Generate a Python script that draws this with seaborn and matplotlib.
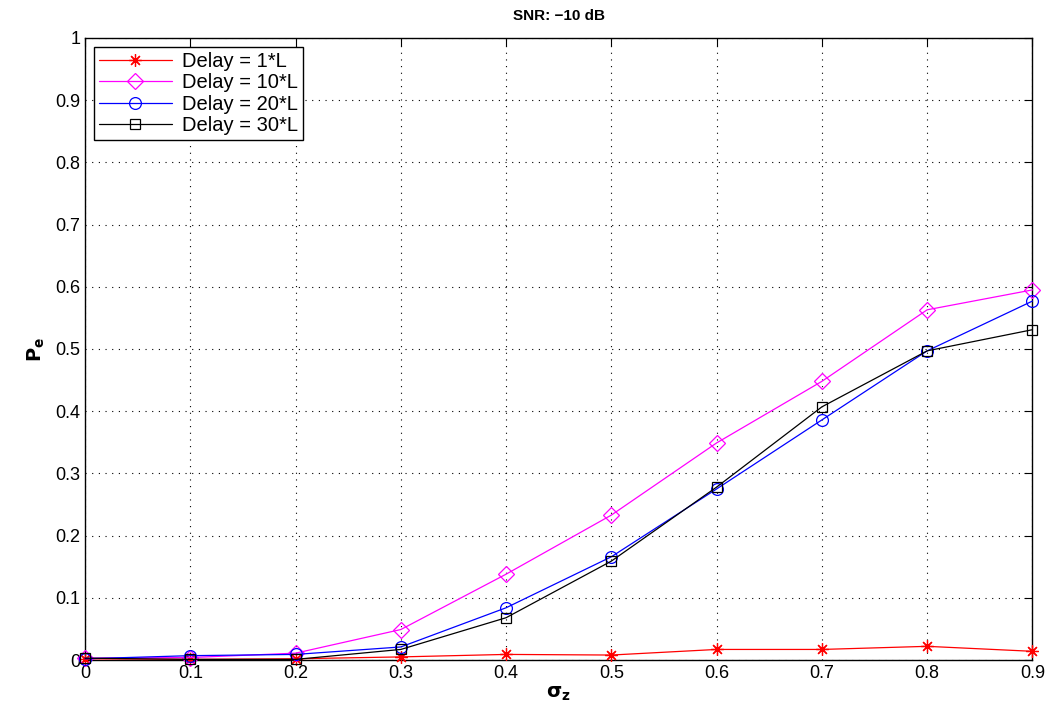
import matplotlib
matplotlib.use("Agg")
import matplotlib.pyplot as plt
import numpy as np
import pandas as pd
import seaborn as sns

# sigma_z values and P_e for each delay
sigma_z = [0.0, 0.1, 0.2, 0.3, 0.4, 0.5, 0.6, 0.7, 0.8, 0.9]
pe_delay_1 = [0.002, 0.001, 0.002, 0.005, 0.009, 0.008, 0.017, 0.017, 0.022, 0.014]
pe_delay_10 = [0.003, 0.004, 0.011, 0.049, 0.138, 0.233, 0.349, 0.448, 0.563, 0.595]
pe_delay_20 = [0.002, 0.007, 0.009, 0.021, 0.084, 0.166, 0.275, 0.386, 0.497, 0.577]
pe_delay_30 = [0.003, 0.001, 0.001, 0.017, 0.068, 0.159, 0.278, 0.407, 0.497, 0.531]
labels = ["Delay = 1*L", "Delay = 10*L", "Delay = 20*L", "Delay = 30*L"]

sns.set_style("white")
plt.rcParams["font.family"] = ["Liberation Sans", "DejaVu Sans"]
plt.rcParams["text.color"] = "black"
plt.rcParams["axes.labelcolor"] = "black"

df = pd.DataFrame(
    {
        "sigma": sigma_z * 4,
        "pe": pe_delay_1 + pe_delay_10 + pe_delay_20 + pe_delay_30,
        "delay": np.repeat(labels, len(sigma_z)),
    }
)

# colour, marker, marker size (MATLAB-like r*-, m d-, b o-, k s-)
styles = {
    labels[0]: ("#ff0000", (8, 2, 0), 9),
    labels[1]: ("#ff00ff", "D", 8),
    labels[2]: ("#0000ff", "o", 8.5),
    labels[3]: ("#000000", "s", 7),
}

fig = plt.figure(figsize=(10.55, 7.15), dpi=100)
ax = fig.add_axes([0.0806, 0.0769, 0.898, 0.870])

for lab in labels:
    col, mk, ms = styles[lab]
    sub = df[df["delay"] == lab]
    sns.lineplot(
        data=sub, x="sigma", y="pe", ax=ax, color=col, marker=mk,
        markersize=ms, markerfacecolor="none", markeredgecolor=col,
        markeredgewidth=0.9, linewidth=0.9, label=lab, clip_on=False,
        zorder=3,
    )

ax.set_xlim(0, 0.9)
ax.set_ylim(0, 1)
ax.set_xticks(np.arange(0, 0.91, 0.1))
ax.set_xticklabels(["0", "0.1", "0.2", "0.3", "0.4", "0.5", "0.6", "0.7", "0.8", "0.9"])
ax.set_yticks(np.arange(0, 1.01, 0.1))
ax.set_yticklabels(["0", "0.1", "0.2", "0.3", "0.4", "0.5", "0.6", "0.7", "0.8", "0.9", "1"])
ax.grid(True, linestyle=(0, (1, 5)), color="black", linewidth=0.8)
ax.set_axisbelow(True)
ax.tick_params(direction="in", length=6, width=0.8, labelsize=13,
               top=True, right=True, colors="black")
for sp in ax.spines.values():
    sp.set_color("black")
    sp.set_linewidth(1.0)

ax.set_title("SNR: \u221210 dB", fontsize=11, fontweight="bold", pad=13)
ax.set_xlabel(r"$\mathbf{\sigma_z}$", fontsize=14, labelpad=2)
ax.set_ylabel(r"$\mathbf{P_e}$", fontsize=14, labelpad=6)

leg = ax.legend(loc="upper left", fontsize=14.5, fancybox=False, framealpha=1,
                edgecolor="black", borderpad=0.25, labelspacing=0.12,
                handlelength=3.6, handletextpad=0.5, borderaxespad=0.45)
leg.get_frame().set_linewidth(1.0)
for t in leg.get_texts():
    t.set_color("black")

fig.savefig("out.png", dpi=100)
